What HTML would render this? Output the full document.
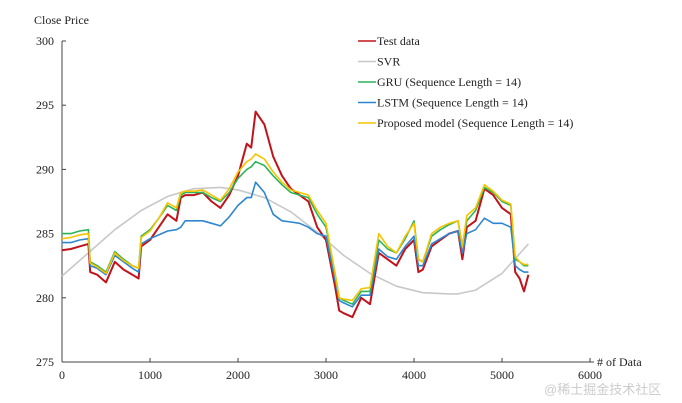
<!DOCTYPE html>
<html><head><meta charset="utf-8"><style>
body{margin:0;background:#fff;width:682px;height:403px;overflow:hidden}
svg{display:block;font-family:"Liberation Serif",serif}
</style></head><body>
<svg id="chart" width="682" height="403" viewBox="0 0 682 403"></svg>
<script>
const xs      =[0,100,200,300,320,400,500,600,700,800,870,900,1000,1100,1200,1300,1350,1400,1500,1600,1700,1800,1900,2000,2100,2150,2200,2300,2400,2500,2600,2700,2800,2900,3000,3100,3150,3200,3300,3400,3500,3600,3700,3800,3900,4000,4050,4100,4200,4300,4400,4500,4550,4600,4700,4800,4900,5000,5100,5150,5200,5250,5300];
const testData=[283.7,283.8,284,284.2,282,281.8,281.2,282.8,282.2,281.8,281.5,284,284.5,285.5,286.5,286,287.8,288,288,288.2,287.5,287,288,289.5,292,291.7,294.5,293.5,291,289.5,288.5,288,287.5,285.5,284.5,281,279,278.8,278.5,280,279.5,283.5,283,282.5,283.8,284.5,282,282.2,284,284.5,285,285.2,283,285.5,286,288.5,288,287,286.5,282,281.5,280.5,281.8];
const gruData =[285,285,285.2,285.3,282.8,282.5,282,283.6,283,282.5,282.3,284.8,285.3,286.2,287.2,286.8,288,288.2,288.2,288.2,287.8,287.5,288.2,289.3,290,290.2,290.6,290.3,289.5,288.8,288.2,288,287.8,286.5,285.5,282,280,279.8,279.5,280.5,280.5,284.5,283.8,283.5,284.6,286,283,282.8,284.8,285.3,285.7,286,284,286,286.8,288.6,288.2,287.5,287.2,283,282.8,282.5,282.5];
const lstmData=[284.3,284.3,284.5,284.6,282.5,282.3,281.8,283.3,282.8,282.3,282,284.2,284.6,284.9,285.2,285.3,285.5,286,286,286,285.8,285.6,286.3,287.2,287.8,287.8,289,288.2,286.5,286,285.9,285.8,285.5,285,284.8,281.5,279.8,279.6,279.3,280.2,280.2,283.8,283.2,283,284,284.8,282.5,282.5,284.2,284.6,285,285.2,283.5,285,285.3,286.2,285.8,285.8,285.5,282.5,282.2,282,282];
const propData=[284.6,284.7,284.9,285,282.7,282.4,281.9,283.5,282.9,282.5,282.3,284.7,285.2,286.2,287.4,287,288.2,288.3,288.3,288.4,288,287.6,288.5,289.8,290.6,290.8,291.2,290.8,289.8,289,288.4,288.2,288,286.8,285.8,282,280,279.9,279.8,280.7,280.8,285,284,283.5,284.8,285.8,283,282.8,285,285.5,285.8,286,284,286.4,287,288.8,288.3,287.6,287.3,283.2,282.8,282.6,282.6];
const svrX    =[0,300,600,900,1200,1500,1800,2000,2300,2600,2900,3200,3500,3800,4100,4400,4500,4700,5000,5300];
const svrData =[281.7,283.5,285.3,286.8,287.9,288.5,288.6,288.4,287.8,286.7,285.1,283.3,281.9,280.9,280.4,280.3,280.3,280.6,281.9,284.2];
const xTicks=[0,1000,2000,3000,4000,5000,6000];
const yTicks=[275,280,285,290,295,300];
const X0=62,X1=590,Y0=362,Y1=41;
const sx=v=>X0+(v/6000)*(X1-X0);
const sy=v=>Y0-(v-275)/25*(Y0-Y1);
const svg=document.getElementById('chart');
const NS='http://www.w3.org/2000/svg';
function mk(t,a,p){const e=document.createElementNS(NS,t);for(const k in a)e.setAttribute(k,a[k]);(p||svg).appendChild(e);return e;}
let ax=mk('g',{});


mk('line',{x1:X0,y1:Y1,x2:X0,y2:Y0,stroke:'#444','stroke-width':1},ax);
mk('line',{x1:X0,y1:Y0,x2:X1+4,y2:Y0,stroke:'#444','stroke-width':1},ax);
yTicks.forEach(t=>{mk('line',{x1:X0,y1:sy(t),x2:X0+4,y2:sy(t),stroke:'#444'},ax);
 const l=mk('text',{x:X0-8,y:sy(t)+4,'text-anchor':'end','font-size':12,fill:'#222'},ax);l.textContent=t;
 
 });
xTicks.forEach(t=>{mk('line',{x1:sx(t),y1:Y0,x2:sx(t),y2:Y0-4,stroke:'#444'},ax);
 const l=mk('text',{x:sx(t),y:Y0+17,'text-anchor':'middle','font-size':12,fill:'#222'},ax);l.textContent=t;
 
 });
let yt=mk('text',{x:34,y:24,'font-size':12,fill:'#222'});yt.textContent='Close Price';


let xt=mk('text',{x:597,y:366,'font-size':12,fill:'#222'});xt.textContent='# of Data';


function line(xa,ya,col,name,w){const d=xa.map((x,i)=>(i?'L':'M')+sx(x).toFixed(1)+','+sy(ya[i]).toFixed(1)).join('');
 const p=mk('path',{d:d,fill:'none',stroke:col,'stroke-width':w,'stroke-linejoin':'round'});
 
 }
line(svrX,svrData,'#c8c8c8','svr-line',1.6);
line(xs,testData,'#c0141c','test-data-line',2);
line(xs,lstmData,'#2e86d0','lstm-line',1.6);
line(xs,gruData,'#2db45a','gru-line',1.6);
line(xs,propData,'#f5c400','proposed-model-line',1.6);
const legNames=['Test data','SVR','GRU (Sequence Length = 14)','LSTM (Sequence Length = 14)','Proposed model (Sequence Length = 14)'];
const legCols=['#c0141c','#c8c8c8','#2db45a','#2e86d0','#f5c400'];
const lg=mk('g',{});


legNames.forEach((n,i)=>{const y=41+i*20.5;const g=mk('g',{},lg);
 
 
 mk('line',{x1:358,y1:y,x2:376,y2:y,stroke:legCols[i],'stroke-width':1.6},g);
 const t=mk('text',{x:377,y:y+4,'font-size':12,fill:'#222'},g);t.textContent=n;});
const wm=mk('text',{x:544,y:394,'font-size':13,fill:'#ccc','font-family':'"Liberation Sans","Noto Sans CJK SC",sans-serif'});
wm.textContent='@稀土掘金技术社区';


</script>
</body></html>
